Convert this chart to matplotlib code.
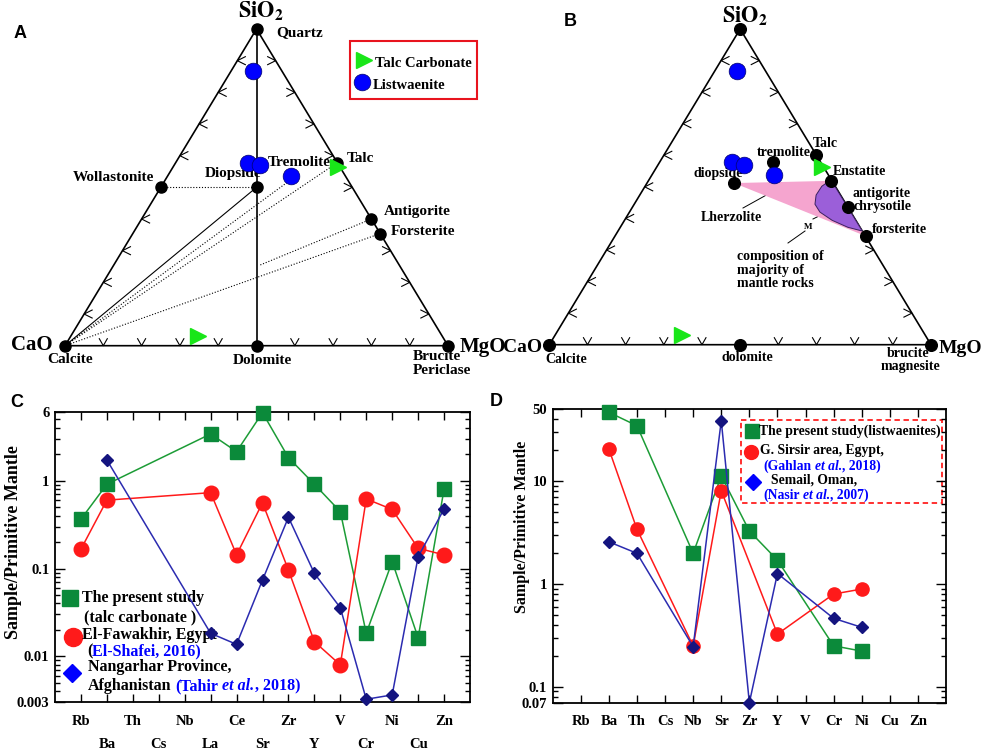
import numpy as np
import matplotlib
matplotlib.use('Agg')
import matplotlib.pyplot as plt
from matplotlib.patches import Polygon, Rectangle
from matplotlib.ticker import LogLocator, NullFormatter

W, H = 982, 753
plt.rcParams['font.family'] = ['Liberation Serif', 'DejaVu Serif']
plt.rcParams['font.weight'] = 'bold'
plt.rcParams['mathtext.fontset'] = 'stix'

nan = np.nan

# ---- ternary data, fractions (MgO, SiO2); CaO is the rest
listw_mgo = [0.058, 0.190, 0.225, 0.321]
listw_sio2 = [0.868, 0.578, 0.570, 0.537]
talc_mgo = [0.432, 0.333]
talc_sio2 = [0.563, 0.030]

# panel A reference minerals
a_names = ['Quartz', 'Wollastonite', 'Diopside', 'Talc', 'Antigorite',
           'Forsterite', 'Calcite', 'Dolomite', 'Brucite']
a_mgo = [0.0, 0.0, 0.25, 0.422, 0.600, 0.646, 0.0, 0.5, 1.0]
a_sio2 = [1.0, 0.5, 0.5, 0.578, 0.400, 0.354, 0.0, 0.0, 0.0]
trem_mgo, trem_sio2 = 0.333, 0.533

# panel B reference minerals
b_names = ['SiO2', 'Talc', 'tremolite', 'diopside', 'Enstatite',
           'antigorite', 'forsterite', 'Calcite', 'dolomite', 'brucite']
b_mgo = [0.0, 0.40, 0.296, 0.228, 0.478, 0.565, 0.657, 0.0, 0.5, 1.0]
b_sio2 = [1.0, 0.60, 0.579, 0.512, 0.519, 0.436, 0.344, 0.0, 0.0, 0.0]
# field of most mantle rocks
mantle_mgo = [0.477, 0.463, 0.462, 0.4735, 0.499, 0.544, 0.596, 0.640]
mantle_sio2 = [0.522, 0.502, 0.474, 0.445, 0.420, 0.394, 0.372, 0.360]

# ---- spider diagrams (sample / primitive mantle)
c_elem = ['Rb', 'Ba', 'Th', 'Cs', 'Nb', 'La', 'Ce', 'Sr', 'Zr', 'Y', 'V', 'Cr', 'Ni', 'Cu', 'Zn']
c_present = [0.364, 0.91, nan, nan, nan, 3.4, 2.14, 5.94, 1.83, 0.91, 0.444, 0.0183, 0.12, 0.0163, 0.80]
c_fawakhir = [0.166, 0.60, nan, nan, nan, 0.73, 0.143, 0.56, 0.096, 0.0147, 0.0080, 0.62, 0.47, 0.17, 0.143]
c_nangarhar = [nan, 1.72, nan, nan, nan, 0.0183, 0.0137, 0.074, 0.383, 0.088, 0.0358, 0.00325, 0.00364, 0.136, 0.476]

d_elem = ['Rb', 'Ba', 'Th', 'Cs', 'Nb', 'Sr', 'Zr', 'Y', 'V', 'Cr', 'Ni', 'Cu', 'Zn']
d_present = [nan, 46.4, 34.4, nan, 1.98, 11.2, 3.26, 1.70, nan, 0.25, 0.222, nan, nan]
d_sirsir = [nan, 20.4, 3.39, nan, 0.249, 8.03, nan, 0.325, nan, 0.796, 0.89, nan, nan]
d_semail = [nan, 2.56, 1.98, nan, 0.245, 38.5, 0.070, 1.26, nan, 0.462, 0.378, nan, nan]

GREEN_L, GREEN_M = '#1c9c36', '#0b8a3a'
RED = '#ff1a1a'
NAVY_L, NAVY_M = '#2b2bb0', '#14147f'
BLUE = '#0000ff'
LIME = '#19e619'

fig = plt.figure(figsize=(W / 100, H / 100), dpi=100)

# overlay in pixel coordinates for labels / legends
ov = fig.add_axes([0, 0, 1, 1])
ov.set_xlim(0, W)
ov.set_ylim(H, 0)
ov.axis('off')
ov.set_zorder(-1)


def tern(mgo, sio2):
    mgo = np.asarray(mgo, float)
    sio2 = np.asarray(sio2, float)
    return mgo + sio2 / 2, sio2


def ternary_axes(l, r, t, b, skip_left, skip_bottom, skip_right):
    ax = fig.add_axes([l / W, 1 - b / H, (r - l) / W, (b - t) / H])
    ax.set_xlim(0, 1)
    ax.set_ylim(0, 1)
    ax.axis('off')
    sx, sy = r - l, b - t
    ax.plot([0, 1, 0.5, 0], [0, 0, 1, 0], color='k', lw=1.2, clip_on=False, zorder=2)
    kw = dict(color='k', lw=0.8, clip_on=False, zorder=2)
    for k in range(1, 10):
        f = k / 10
        if k not in skip_bottom:
            ax.plot([f - 4 / sx, f, f + 4 / sx], [7 / sy, 0, 7 / sy], **kw)
        if k not in skip_left:
            x = f / 2
            ax.plot([x + 8 / sx, x, x + 8 / sx], [f + 4 / sy, f, f - 4 / sy], **kw)
        if k not in skip_right:
            x = 1 - f / 2
            ax.plot([x - 8 / sx, x, x - 8 / sx], [f + 4 / sy, f, f - 4 / sy], **kw)
    return ax


def samples(ax):
    x, y = tern(listw_mgo, listw_sio2)
    ax.plot(x, y, 'o', ms=12, mfc=BLUE, mec='#00006a', mew=0.5, clip_on=False, zorder=6)
    x, y = tern(talc_mgo, talc_sio2)
    ax.plot(x, y, '>', ms=11, mfc=LIME, mec=LIME, clip_on=False, zorder=7)


# ---------------- panel A
axA = ternary_axes(65, 448, 29, 345.7, skip_left=[5], skip_bottom=[5], skip_right=[4])
ax_, ay_ = tern(a_mgo, a_sio2)
pt = dict(zip(a_names, zip(ax_, ay_)))
tx, ty = tern(trem_mgo, trem_sio2)
dot = dict(color='k', lw=0.8, ls=(0, (1, 1.6)), clip_on=False, zorder=3)
axA.plot([pt['Quartz'][0], pt['Dolomite'][0]], [pt['Quartz'][1], pt['Dolomite'][1]],
         color='k', lw=1.2, zorder=3, clip_on=False)
axA.plot([0, pt['Diopside'][0]], [0, pt['Diopside'][1]], color='k', lw=0.8, zorder=3)
axA.plot([pt['Wollastonite'][0], pt['Diopside'][0]],
         [pt['Wollastonite'][1], pt['Diopside'][1]], **dot)
for end in [(tx, ty), pt['Talc'], pt['Forsterite']]:
    axA.plot([0, end[0]], [0, end[1]], **dot)
ag = pt['Antigorite']
axA.plot([0.51, ag[0]], [0.51 * ag[1] / ag[0], ag[1]], **dot)
axA.plot(ax_, ay_, 'o', ms=8, color='k', clip_on=False, zorder=5)
samples(axA)

labA = [('Quartz', 276, 33, 'left'), ('Wollastonite', 154, 177, 'right'),
        ('Diopside', 205, 173, 'left'), ('Tremolite', 268, 162, 'left'),
        ('Talc', 347, 158, 'left'), ('Antigorite', 384, 211, 'left'),
        ('Forsterite', 391, 231, 'left'), ('Calcite', 47, 359, 'left'),
        ('Dolomite', 262, 360, 'center'), ('Brucite', 413, 356, 'left'),
        ('Periclase', 413, 370, 'left')]
for s, x, y, ha in labA:
    ov.text(x, y, s, fontsize=11, ha=ha, va='center')
ov.text(53, 345, 'CaO', fontsize=15, ha='right', va='center')
ov.text(460, 347, 'MgO', fontsize=15, ha='left', va='center')
ov.text(261, 11, r'$\mathbf{SiO_2}$', fontsize=16, ha='center', va='center')

# legend A
ov.add_patch(Rectangle((350, 41), 127, 58, fc='white', ec='#e8141e', lw=1.5))
ov.plot([364], [60], '>', ms=11, color=LIME)
ov.plot([362], [82], 'o', ms=12, mfc=BLUE, mec='#00006a', mew=0.5)
ov.text(375, 63, 'Talc Carbonate', fontsize=10.5, va='center')
ov.text(373, 85, 'Listwaenite', fontsize=10.5, va='center')

# ---------------- panel B
axB = ternary_axes(549.3, 931, 29, 344.7, skip_left=[], skip_bottom=[5], skip_right=[4, 5, 6])
bx, by = tern(b_mgo, b_sio2)
ptb = dict(zip(b_names, zip(bx, by)))
lher = [ptb['diopside'], ptb['Enstatite'], ptb['forsterite']]
axB.add_patch(Polygon(lher, closed=True, fc='#f5a5cf', ec='none', zorder=2))
mx, my = tern(mantle_mgo, mantle_sio2)
axB.add_patch(Polygon(np.column_stack([mx, my]), closed=True, fc='#9b5fd9',
                      ec='#3a2060', lw=0.7, zorder=3))
axB.plot(bx, by, 'o', ms=8.4, color='k', clip_on=False, zorder=5)
samples(axB)

labB = [('Talc', 813, 143, 'left'), ('tremolite', 757, 152, 'left'),
        ('diopside', 694, 173, 'left'), ('Enstatite', 833, 171, 'left'),
        ('antigorite', 853, 193, 'left'), ('chrysotile', 854, 206, 'left'),
        ('forsterite', 872, 229, 'left'), ('Lherzolite', 701, 217, 'left'),
        ('Calcite', 545, 359, 'left'), ('dolomite', 747, 357, 'center'),
        ('brucite', 887, 353, 'left'), ('magnesite', 881, 366, 'left')]
for s, x, y, ha in labB:
    ov.text(x, y, s, fontsize=10, ha=ha, va='center')
ov.text(737, 250, 'composition of\nmajority of\nmantle rocks', fontsize=10,
        ha='left', va='top', linespacing=1.05)
ov.text(808, 227, 'M', fontsize=6.5, ha='center', va='center')
ov.plot([743, 770], [208, 193], color='k', lw=0.7)
ov.plot([837, 813], [207, 219], color='k', lw=0.7)
ov.plot([805, 788], [231, 243], color='k', lw=0.7)
ov.text(542, 347, 'CaO', fontsize=14, ha='right', va='center')
ov.text(939, 348, 'MgO', fontsize=14, ha='left', va='center')
ov.text(745, 16, r'$\mathbf{SiO_2}$', fontsize=16, ha='center', va='center')

# panel letters
for s, x, y in [('A', 20, 33), ('B', 570, 21), ('C', 17, 402), ('D', 496, 401)]:
    ov.text(x, y, s, fontsize=13, family='Liberation Sans', ha='center', va='center')


# ---------------- spider diagrams
def spider_axes(l, t, r, b, elems, ylim, yticks, ylabels, two_rows):
    ax = fig.add_axes([l / W, 1 - b / H, (r - l) / W, (b - t) / H])
    ax.patch.set_visible(False)
    ax.set_yscale('log')
    ax.set_xlim(0, len(elems) + 1)
    ax.set_ylim(*ylim)
    ax.set_yticks(yticks, ylabels)
    ax.yaxis.set_minor_locator(LogLocator(base=10, subs=np.arange(2, 10)))
    ax.yaxis.set_minor_formatter(NullFormatter())
    x = np.arange(1, len(elems) + 1)
    if two_rows:
        ax.set_xticks(x[::2], elems[::2])
        ax.set_xticks(x[1::2], elems[1::2], minor=True)
    else:
        ax.set_xticks(x, elems)
    ax.tick_params(which='both', direction='in', top=True, right=True,
                   labelsize=10.5, width=1)
    ax.tick_params(axis='y', which='major', length=7, pad=4)
    ax.tick_params(axis='y', which='minor', length=3.5)
    ax.tick_params(axis='x', which='both', length=6)
    ax.tick_params(axis='x', which='major', pad=9)
    ax.tick_params(axis='x', which='minor', pad=26)
    for sp in ax.spines.values():
        sp.set_linewidth(1.3)
    return ax


def spider(ax, elems, series):
    x = np.arange(1, len(elems) + 1)
    for vals, lc, mk, mc, ms in series:
        v = np.array(vals, float)
        ok = ~np.isnan(v)
        ax.plot(x[ok], v[ok], color=lc, lw=1.1, marker=mk, ms=ms, mfc=mc, mec=mc,
                clip_on=False, zorder=3)


def rich(x, y, parts, size):
    r = fig.canvas.get_renderer()
    for s, color, style, gap in parts:
        t = ov.text(x, y, s, color=color, fontstyle=style, fontsize=size, va='center')
        x += t.get_window_extent(r).width + gap


axC = spider_axes(55, 412.3, 470, 702.3, c_elem, (0.003, 6),
                  [0.003, 0.01, 0.1, 1, 6], ['0.003', '0.01', '0.1', '1', '6'], True)
spider(axC, c_elem, [(c_present, GREEN_L, 's', GREEN_M, 10.5),
                     (c_fawakhir, RED, 'o', RED, 10.5),
                     (c_nangarhar, NAVY_L, 'D', NAVY_M, 6.5)])
ov.text(14, 542, 'Sample/Primitive Mantle', fontsize=13, rotation=90, ha='center', va='center')

ov.plot([70], [598], 's', ms=11, color=GREEN_M)
ov.plot([73], [637], 'o', ms=13, color=RED)
ov.plot([72], [673], 'D', ms=9.5, color=BLUE)
ov.text(82, 598, 'The present study', fontsize=11.5, va='center')
ov.text(84, 617, '(talc carbonate )', fontsize=11.5, va='center')
ov.text(82, 635, 'El-Fawakhir, Egypt', fontsize=11.5, va='center')
rich(87, 651, [('(', 'k', 'normal', 0), ('El-Shafei, 2016)', BLUE, 'normal', 0)], 11.5)
ov.text(88, 667, 'Nangarhar Province,', fontsize=11.5, va='center')
rich(88, 686, [('Afghanistan', 'k', 'normal', 4), ('(Tahir', BLUE, 'normal', 4),
               ('et al.', BLUE, 'italic', 0), (', 2018)', BLUE, 'normal', 0)], 11.5)

axD = spider_axes(552.7, 409, 946, 702.7, d_elem, (0.07, 50),
                  [0.07, 0.1, 1, 10, 50], ['0.07', '0.1', '1', '10', '50'], False)
spider(axD, d_elem, [(d_present, GREEN_L, 's', GREEN_M, 10),
                     (d_sirsir, RED, 'o', RED, 9.5),
                     (d_semail, NAVY_L, 'D', NAVY_M, 6.5)])
ov.text(522, 527, 'Sample/Primitive Mantle', fontsize=11.5, rotation=90, ha='center', va='center')

ov.add_patch(Rectangle((741, 420), 201, 83, fc='none', ec='#ff2020', lw=1.3, ls=(0, (3, 2))))
ov.plot([752], [431], 's', ms=9.5, color=GREEN_M)
ov.plot([751], [452], 'o', ms=10, color=RED)
ov.plot([753], [482], 'D', ms=8.5, color=BLUE)
ov.text(759, 431, 'The present study(listwaenites)', fontsize=9.8, va='center')
ov.text(760, 450, 'G. Sirsir area, Egypt,', fontsize=9.8, va='center')
rich(763, 466, [('(Gahlan', BLUE, 'normal', 3.5), ('et al.', BLUE, 'italic', 0),
                (', 2018)', BLUE, 'normal', 0)], 9.8)
ov.text(771, 480, 'Semail, Oman,', fontsize=9.8, va='center')
rich(763, 495, [('(Nasir', BLUE, 'normal', 3.5), ('et al.', BLUE, 'italic', 0),
                (', 2007)', BLUE, 'normal', 0)], 9.8)

fig.savefig('out.png', dpi=100)
